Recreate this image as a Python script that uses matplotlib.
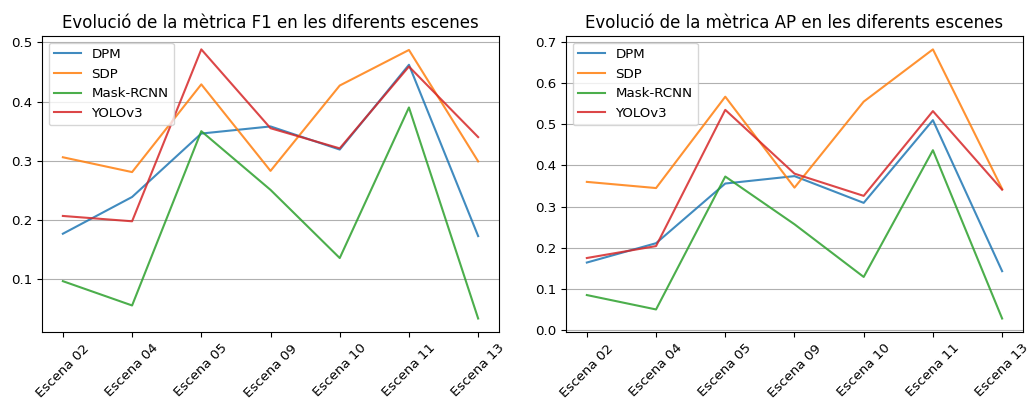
import matplotlib
matplotlib.use("Agg")
import matplotlib.pyplot as plt

escenes = ["Escena 02", "Escena 04", "Escena 05", "Escena 09", "Escena 10", "Escena 11", "Escena 13"]
models = ["DPM", "SDP", "Mask-RCNN", "YOLOv3"]

f1_dpm = [0.177, 0.239, 0.346, 0.358, 0.319, 0.462, 0.173]
f1_sdp = [0.306, 0.281, 0.429, 0.283, 0.427, 0.487, 0.299]
f1_mask = [0.097, 0.056, 0.350, 0.251, 0.136, 0.390, 0.034]
f1_yolo = [0.207, 0.198, 0.488, 0.355, 0.321, 0.459, 0.340]

ap_dpm = [0.164, 0.211, 0.356, 0.374, 0.309, 0.510, 0.143]
ap_sdp = [0.360, 0.345, 0.567, 0.346, 0.555, 0.682, 0.343]
ap_mask = [0.085, 0.050, 0.373, 0.257, 0.129, 0.437, 0.028]
ap_yolo = [0.175, 0.204, 0.535, 0.380, 0.326, 0.532, 0.341]

plt.rcParams["font.size"] = 9.6

fig, axes = plt.subplots(1, 2, figsize=(10.27, 3.99), dpi=100)
fig.subplots_adjust(left=0.041, right=0.996, top=0.91, bottom=0.168, wspace=0.147)

panels = [
    (axes[0], [f1_dpm, f1_sdp, f1_mask, f1_yolo], "Evolució de la mètrica F1 en les diferents escenes"),
    (axes[1], [ap_dpm, ap_sdp, ap_mask, ap_yolo], "Evolució de la mètrica AP en les diferents escenes"),
]
for ax, series, title in panels:
    for name, vals in zip(models, series):
        ax.plot(escenes, vals, label=name, alpha=0.85, linewidth=1.5)
    ax.set_title(title, fontsize=12)
    ax.grid(axis="y", color="#b0b0b0", linewidth=0.8)
    ax.legend(loc="upper left")
    ax.tick_params(axis="x", rotation=45)

fig.savefig("out.png", dpi=100)
